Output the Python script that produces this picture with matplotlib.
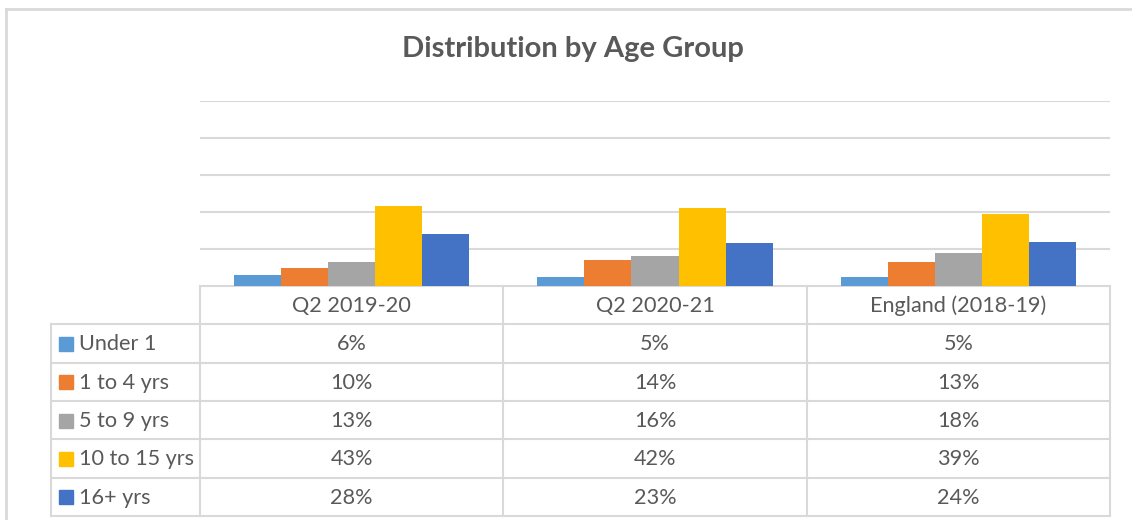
import matplotlib
matplotlib.use("Agg")
import matplotlib.pyplot as plt
from matplotlib.patches import Rectangle

# data
groups = ["Q2 2019-20", "Q2 2020-21", "England (2018-19)"]
ages = ["Under 1", "1 to 4 yrs", "5 to 9 yrs", "10 to 15 yrs", "16+ yrs"]
under_1 = [6, 5, 5]
yrs_1_4 = [10, 14, 13]
yrs_5_9 = [13, 16, 18]
yrs_10_15 = [43, 42, 39]
yrs_16_plus = [28, 23, 24]
series = [under_1, yrs_1_4, yrs_5_9, yrs_10_15, yrs_16_plus]
colors = ["#5B9BD5", "#ED7D31", "#A5A5A5", "#FFC000", "#4472C4"]

W, H = 1132, 520
TXT = "#595959"
GRID = "#D9D9D9"
plt.rcParams["font.family"] = ["Lato", "DejaVu Sans"]

fig = plt.figure(figsize=(W / 100, H / 100), dpi=100)

# overlay in pixel coords for frame, table and title
ov = fig.add_axes([0, 0, 1, 1])
ov.set_xlim(0, W)
ov.set_ylim(H, 0)
ov.axis("off")

# bars
x0, x1, ytop, ybot = 200, 1110, 101, 286
ax = fig.add_axes([x0 / W, 1 - ybot / H, (x1 - x0) / W, (ybot - ytop) / H])
ax.set_xlim(-0.5, len(groups) - 0.5)
ax.set_ylim(0, 100)
ax.set_yticks(range(0, 101, 20))
ax.yaxis.grid(True, color=GRID, lw=1.5)
ax.set_axisbelow(True)
for s in ax.spines.values():
    s.set_visible(False)
ax.tick_params(left=False, bottom=False, labelleft=False, labelbottom=False)

bw = 0.155
for i, (vals, c) in enumerate(zip(series, colors)):
    xs = [g + (i - 2) * bw for g in range(len(groups))]
    ax.bar(xs, vals, width=bw, color=c, zorder=2)

# outer chart frame (top + left only visible)
ov.plot([6, W], [8.5, 8.5], color=GRID, lw=2)
ov.plot([6, 6], [8.5, H], color=GRID, lw=2)

ov.text(573, 49, "Distribution by Age Group", ha="center", va="center",
        fontsize=21, fontweight="bold", color=TXT)

# data table
col_w = (x1 - x0) / len(groups)
row_h = 38.3
hdr_top = 286
lab_x = 51
lw = 1.5
rows_top = hdr_top + row_h
bottom = rows_top + row_h * len(ages)
# header row
ov.plot([x0, x1], [hdr_top, hdr_top], color=GRID, lw=lw)
for j in range(len(groups) + 1):
    xx = x0 + j * col_w
    ov.plot([xx, xx], [hdr_top, bottom], color=GRID, lw=lw)
ov.plot([lab_x, lab_x], [rows_top, bottom], color=GRID, lw=lw)
for k in range(len(ages) + 1):
    yy = rows_top + k * row_h
    ov.plot([lab_x, x1], [yy, yy], color=GRID, lw=lw)

for j, g in enumerate(groups):
    ov.text(x0 + (j + 0.5) * col_w, hdr_top + row_h / 2 + 1, g,
            ha="center", va="center", fontsize=15.6, color=TXT)

for k, (name, vals, c) in enumerate(zip(ages, series, colors)):
    yc = rows_top + (k + 0.5) * row_h + 1
    ov.add_patch(Rectangle((59, yc - 7.5), 14, 14, color=c))
    ov.text(79, yc, name, ha="left", va="center", fontsize=15.6, color=TXT)
    for j, v in enumerate(vals):
        ov.text(x0 + (j + 0.5) * col_w, yc, f"{v}%",
                ha="center", va="center", fontsize=15.6, color=TXT)

fig.savefig("out.png", dpi=100, facecolor="white")
